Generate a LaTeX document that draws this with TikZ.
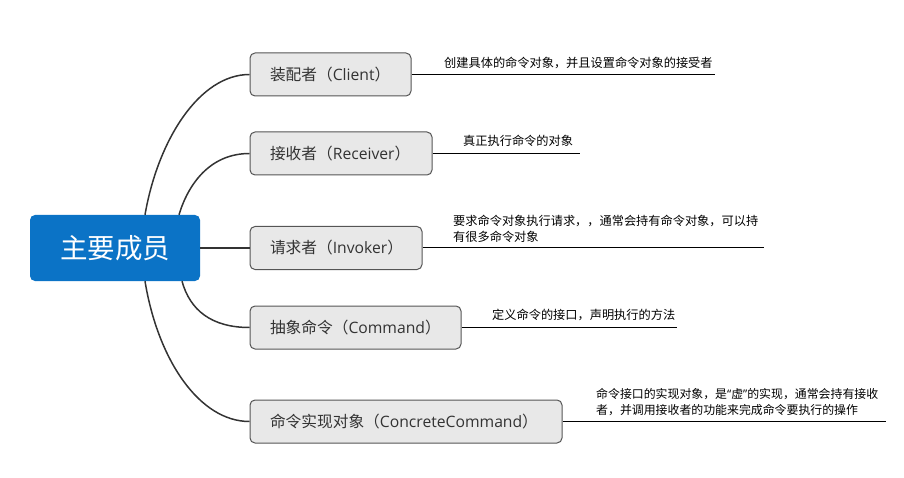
\documentclass[tikz,border=0pt]{standalone}
\usepackage{fontspec}
\setmainfont{Open Sans}
\newfontfamily\cjk{Noto Sans CJK SC}
\definecolor{rootblue}{RGB}{11,115,198}
\definecolor{boxfill}{RGB}{232,232,232}
\definecolor{boxline}{RGB}{85,85,85}
\definecolor{linkc}{RGB}{51,51,51}
\begin{document}
\begin{tikzpicture}[x=1pt,y=-1pt,
  rootbox/.style={rectangle,rounded corners=5pt,fill=rootblue,draw=none,minimum width=170pt,minimum height=66pt,inner sep=0pt,text=white,font=\cjk\fontsize{27.5}{32}\selectfont},
  subbox/.style={rectangle,rounded corners=5pt,fill=boxfill,draw=boxline,line width=1pt,minimum height=43pt,inner xsep=20pt,inner ysep=0pt,align=left,text width=#1,text=linkc,font=\fontsize{15.7}{18}\selectfont},
  link/.style={draw=linkc,line width=1.5pt},
  uline/.style={draw=black,line width=1pt},
  note/.style={anchor=south west,inner sep=0pt,text depth=0pt,align=left,font=\cjk\fontsize{12.2}{16}\selectfont,text=black}]
\useasboundingbox (0,0) rectangle (904,478);
% root
\node[rootbox] (root) at (115,248) {主要成员};
% children
\node[subbox=121pt] (c1) at (330.5,74.5) {{\cjk 装配者（}Client{\cjk ）}};
\node[subbox=142pt] (c2) at (341,153.5) {{\cjk 接收者（}Receiver{\cjk ）}};
\node[subbox=132pt] (c3) at (336,248) {{\cjk 请求者（}Invoker{\cjk ）}};
\node[subbox=171pt] (c4) at (355.5,327.5) {{\cjk 抽象命令（}Command{\cjk ）}};
\node[subbox=272pt] (c5) at (406,421.5) {{\cjk 命令实现对象（}ConcreteCommand{\cjk ）}};
% connectors
\draw[link] ([xshift=30pt]root.north) .. controls +(13,-75) and +(-50,0) .. (c1.west);
\draw[link] ([xshift=64pt]root.north) .. controls +(9,-30) and +(-40,0) .. (c2.west);
\draw[link] (root.east) -- (c3.west);
\draw[link] ([xshift=67pt]root.south) .. controls +(8,29) and +(-38,0) .. (c4.west);
\draw[link] ([xshift=30pt]root.south) .. controls +(13,79) and +(-50,0) .. (c5.west);
% underline ends
\coordinate (e1) at (715,0);
\coordinate (e2) at (580,0);
\coordinate (e3) at (764,0);
\coordinate (e4) at (677,0);
\coordinate (e5) at (886,0);
\draw[uline] (c1.east) -- (c1.east -| e1);
\draw[uline] (c2.east) -- (c2.east -| e2);
\draw[uline] (c3.east) -- (c3.east -| e3);
\draw[uline] (c4.east) -- (c4.east -| e4);
\draw[uline] (c5.east) -- (c5.east -| e5);
% notes
\node[note] (n1) at (444,67.5) {创建具体的命令对象，并且设置命令对象的接受者};
\node[note] (n2) at (463,146) {真正执行命令的对象};
\node[note] (n3) at (453,241.5) {要求命令对象执行请求，，通常会持有命令对象，可以持\\有很多命令对象};
\node[note] (n4) at (492,320) {定义命令的接口，声明执行的方法};
\node[note,font=\cjk\fontsize{11.9}{16}\selectfont] (n5) at (596,414.5) {命令接口的实现对象，是{\rmfamily“}虚{\rmfamily”}的实现，通常会持有接收\\者，并调用接收者的功能来完成命令要执行的操作};
\end{tikzpicture}
\end{document}
